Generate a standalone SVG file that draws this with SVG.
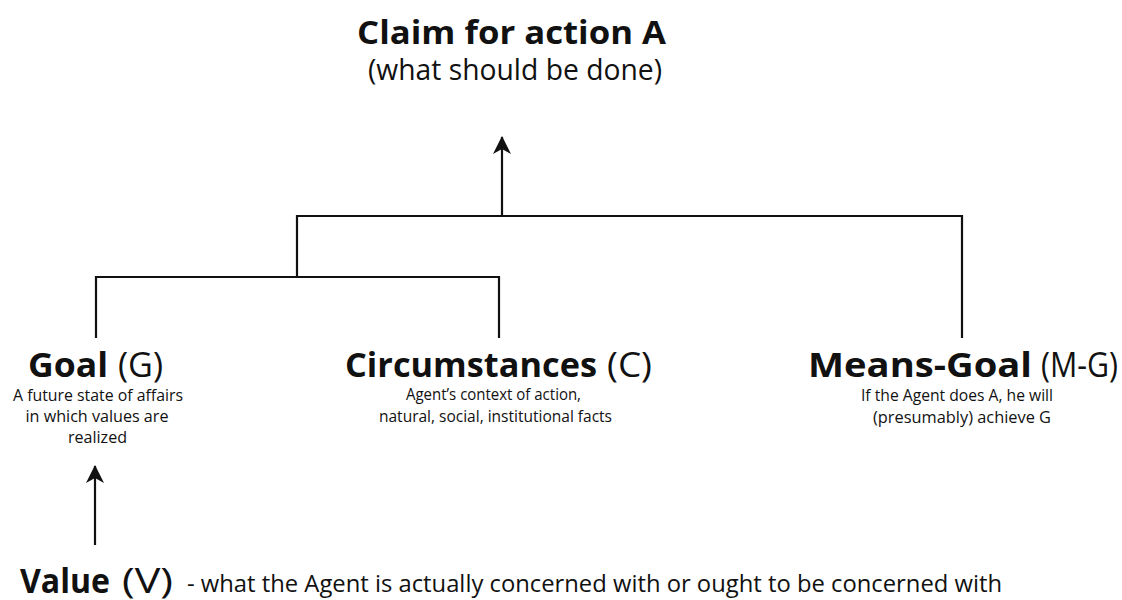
<svg xmlns="http://www.w3.org/2000/svg" width="1122" height="600" viewBox="0 0 1122 600">
<style>
text{font-family:"Open Sans","Liberation Sans",sans-serif;fill:#111}
.b{font-weight:700}
.h{font-size:34px}
.d{font-size:16px;text-anchor:middle}
.ln{fill:none;stroke:#111;stroke-width:2.2}
</style>
<defs>
<marker id="ah" markerUnits="userSpaceOnUse" markerWidth="20" markerHeight="20" refX="17" refY="9" orient="auto">
<path d="M0,0 L18,9 L0,18 L5,9 Z" fill="#111"/>
</marker>
</defs>
<g id="connectors">
<polyline class="ln" points="96,338 96,277 499,277 499,338"/>
<polyline class="ln" points="297,277 297,216 962,216 962,338"/>
<line class="ln" x1="502" y1="216" x2="502" y2="137" marker-end="url(#ah)"/>
<line class="ln" x1="95" y1="545" x2="95" y2="466" marker-end="url(#ah)"/>
</g>
<g id="claim">
<text class="b" x="357" y="44" font-size="32" textLength="309" lengthAdjust="spacingAndGlyphs">Claim for action A</text>
<text x="368" y="80" font-size="29" textLength="294" lengthAdjust="spacingAndGlyphs">(what should be done)</text>
</g>
<g id="goal">
<text class="b h" x="28" y="377" textLength="80" lengthAdjust="spacingAndGlyphs">Goal</text>
<text class="h" x="118" y="377" textLength="45" lengthAdjust="spacingAndGlyphs">(G)</text>
<text class="d" x="98" y="401" textLength="170" lengthAdjust="spacingAndGlyphs">A future state of affairs</text>
<text class="d" x="97" y="422" textLength="143" lengthAdjust="spacingAndGlyphs">in which values are</text>
<text class="d" x="97.5" y="443" textLength="59" lengthAdjust="spacingAndGlyphs">realized</text>
</g>
<g id="circumstances">
<text class="b h" x="345" y="377" textLength="252" lengthAdjust="spacingAndGlyphs">Circumstances</text>
<text class="h" x="607" y="377" textLength="45" lengthAdjust="spacingAndGlyphs">(C)</text>
<text class="d" x="493.5" y="400" textLength="175" lengthAdjust="spacingAndGlyphs">Agent’s context of action,</text>
<text class="d" x="495.5" y="422" textLength="233" lengthAdjust="spacingAndGlyphs">natural, social, institutional facts</text>
</g>
<g id="means-goal">
<text class="b h" x="808" y="377" textLength="224" lengthAdjust="spacingAndGlyphs">Means-Goal</text>
<text class="h" x="1041" y="377" textLength="77" lengthAdjust="spacingAndGlyphs">(M-G)</text>
<text class="d" x="957" y="401" textLength="192" lengthAdjust="spacingAndGlyphs">If the Agent does A, he will</text>
<text class="d" x="962" y="423" textLength="178" lengthAdjust="spacingAndGlyphs">(presumably) achieve G</text>
</g>
<g id="value">
<text class="b h" x="20" y="593" textLength="90" lengthAdjust="spacingAndGlyphs">Value</text>
<text class="h" x="122" y="593" textLength="51" lengthAdjust="spacingAndGlyphs">(V)</text>
<text x="187" y="592" font-size="24" textLength="815" lengthAdjust="spacingAndGlyphs">- what the Agent is actually concerned with or ought to be concerned with</text>
</g>
</svg>
